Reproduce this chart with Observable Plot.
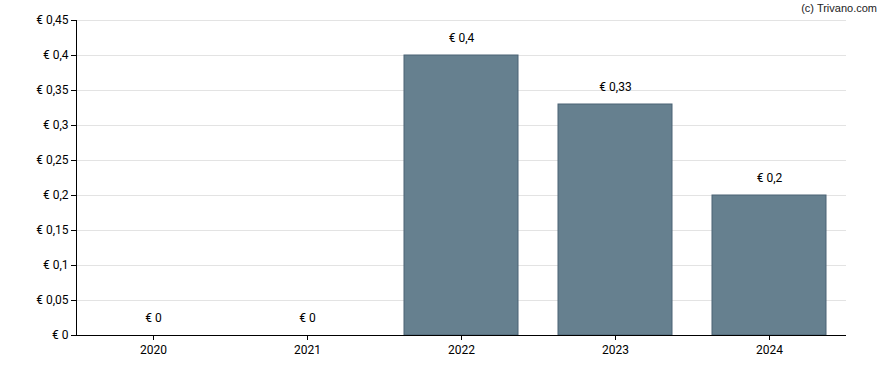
<!DOCTYPE html>
<html>
<head>
<meta charset="utf-8">
<script src="https://cdn.jsdelivr.net/npm/d3@7"></script>
<script src="https://cdn.jsdelivr.net/npm/@observablehq/plot@0.6"></script>
<style>
  body { margin: 0; background: #fff; }
  #chart { position: relative; width: 888px; height: 370px; }
  #credit { position: absolute; top: 2px; right: 11px; font: 11px "Liberation Sans", Arial, sans-serif; color: #222; }
</style>
</head>
<body>
<div id="chart"><div id="credit">(c) Trivano.com</div></div>
<script>
const years = ["2020", "2021", "2022", "2023", "2024"];
const dividends = [0, 0, 0.4, 0.33, 0.2];
const yTicks = [0, 0.05, 0.1, 0.15, 0.2, 0.25, 0.3, 0.35, 0.4, 0.45];

const data = years.map((y, i) => ({year: y, value: dividends[i]}));
const fmt = v => "€ " + String(+v.toFixed(2)).replace(".", ",");

const plot = Plot.plot({
  width: 888,
  height: 370,
  marginLeft: 76,
  marginRight: 42,
  marginTop: 20,
  marginBottom: 35,
  style: {fontFamily: "Roboto, sans-serif", fontSize: "12px", color: "#000", background: "#fff"},
  x: {domain: years, paddingInner: 0.25, paddingOuter: 0.125, label: null, tickSize: 5, tickPadding: 5},
  y: {domain: [0, 0.45], ticks: yTicks, tickFormat: fmt, label: null, tickSize: 5, tickPadding: 3},
  marks: [
    Plot.gridY(yTicks, {stroke: "#e3e3e3", strokeOpacity: 1}),
    Plot.barY(data, {x: "year", y: "value", fill: "#66808f", stroke: "#4a6274", strokeWidth: 1, insetLeft: 1, insetRight: 1}),
    Plot.text(data, {x: "year", y: "value", text: d => fmt(d.value), dy: -17, fill: "#000", fontSize: 12}),
    Plot.frame({anchor: "left", stroke: "#000"}),
    Plot.ruleY([0], {stroke: "#000"})
  ]
});
document.getElementById("chart").appendChild(plot);
</script>
</body>
</html>
